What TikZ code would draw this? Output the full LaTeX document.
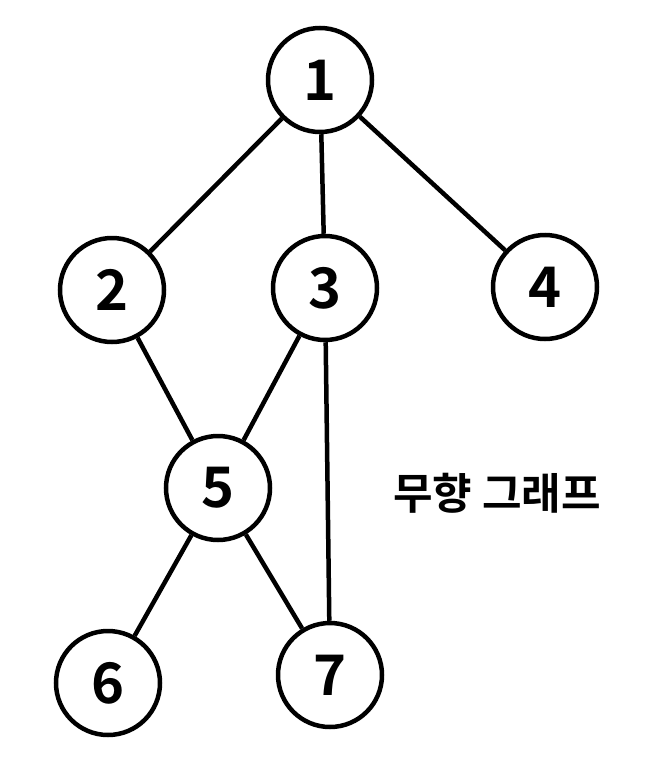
\documentclass[tikz,border=0pt]{standalone}
\usepackage{fontspec}
\newfontfamily\krfont{Noto Sans CJK KR}[BoldFont={* Bold}]
\begin{document}
\begin{tikzpicture}[x=1pt,y=-1pt,
  vtx/.style={circle,draw,line width=4.5pt,minimum size=104pt,inner sep=0pt,font=\krfont\bfseries\fontsize{56}{56}\selectfont},
  edge/.style={line width=4.5pt}]
\useasboundingbox (0,0) rectangle (655,771);
\node[vtx] (n1) at (320,80) {1};
\node[vtx] (n2) at (112,290) {2};
\node[vtx] (n3) at (325,288) {3};
\node[vtx] (n4) at (545,287) {4};
\node[vtx] (n5) at (218,488) {5};
\node[vtx] (n6) at (108,683) {6};
\node[vtx] (n7) at (330,675) {7};
\node[font=\krfont\bfseries\fontsize{43}{43}\selectfont] (lbl) at (497,493) {무향 그래프};
\draw[edge] (n1) -- (n2);
\draw[edge] (n1) -- (n3);
\draw[edge] (n1) -- (n4);
\draw[edge] (n2) -- (n5);
\draw[edge] (n3) -- (n5);
\draw[edge] (n3) -- (n7);
\draw[edge] (n5) -- (n6);
\draw[edge] (n5) -- (n7);
\end{tikzpicture}
\end{document}
